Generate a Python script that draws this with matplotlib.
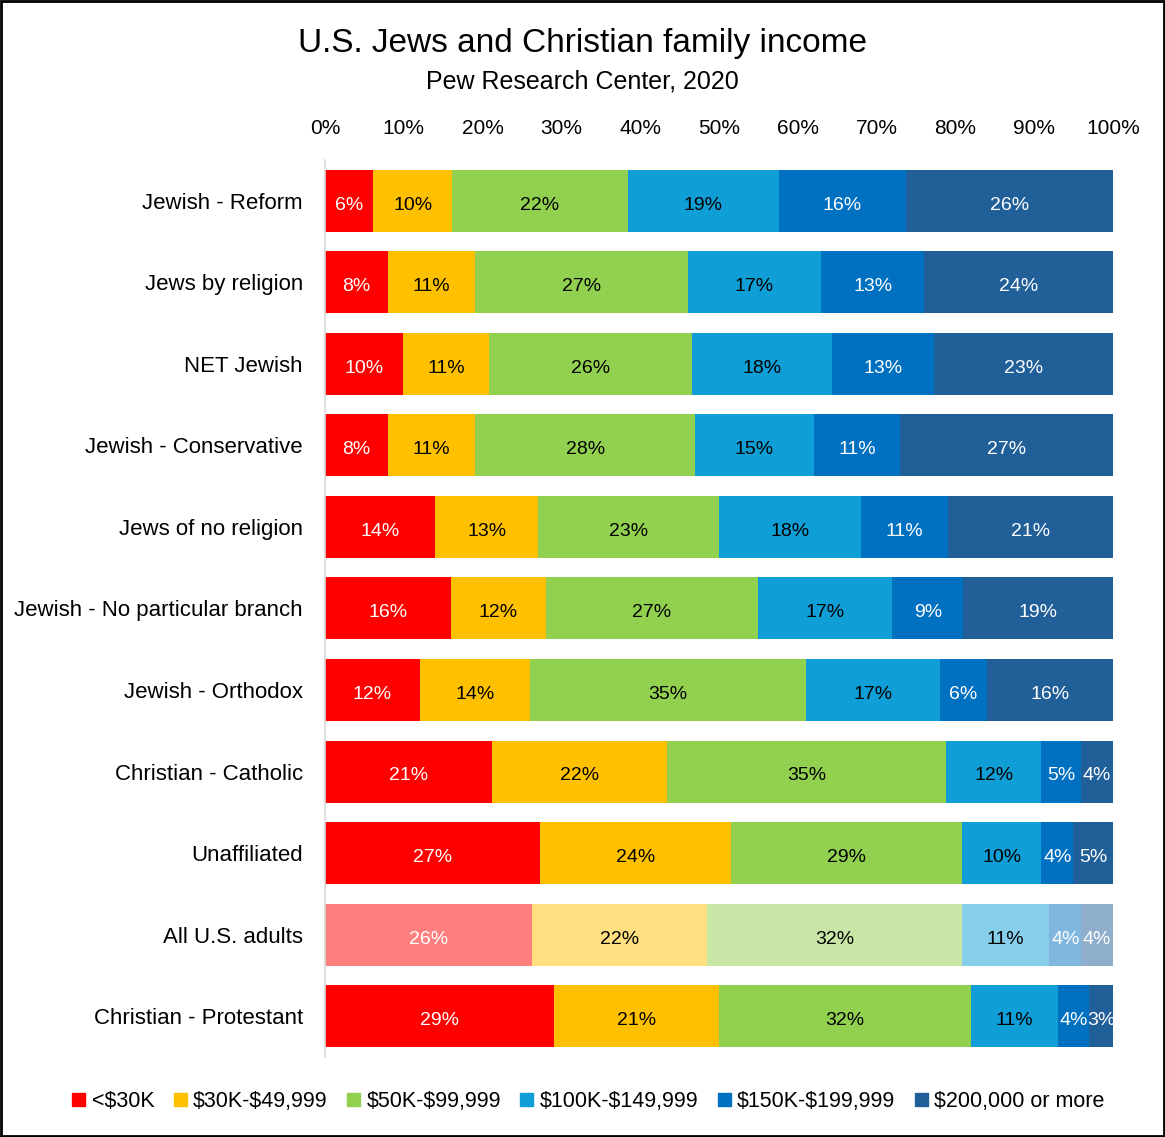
import numpy as np
import matplotlib.pyplot as plt
from matplotlib.patches import Patch, Rectangle

# categories, top to bottom
groups = ["Jewish - Reform", "Jews by religion", "NET Jewish", "Jewish - Conservative",
          "Jews of no religion", "Jewish - No particular branch", "Jewish - Orthodox",
          "Christian - Catholic", "Unaffiliated", "All U.S. adults", "Christian - Protestant"]

lt30k =   [6, 8, 10, 8, 14, 16, 12, 21, 27, 26, 29]
k30_50 =  [10, 11, 11, 11, 13, 12, 14, 22, 24, 22, 21]
k50_100 = [22, 27, 26, 28, 23, 27, 35, 35, 29, 32, 32]
k100_150 = [19, 17, 18, 15, 18, 17, 17, 12, 10, 11, 11]
k150_200 = [16, 13, 13, 11, 11, 9, 6, 5, 4, 4, 4]
k200plus = [26, 24, 23, 27, 21, 19, 16, 4, 5, 4, 3]

series_names = ["<$30K", "$30K-$49,999", "$50K-$99,999", "$100K-$149,999",
                "$150K-$199,999", "$200,000 or more"]
colors = ["#FF0000", "#FFC000", "#92D050", "#0F9ED5", "#0070C0", "#215F99"]
text_cols = ["white", "black", "black", "black", "white", "white"]

plt.rcParams['font.family'] = ['Liberation Sans Narrow', 'Liberation Sans', 'DejaVu Sans']
plt.rcParams['text.parse_math'] = False

data = np.array([lt30k, k30_50, k50_100, k100_150, k150_200, k200plus], dtype=float)
share = data / data.sum(axis=0) * 100  # 100% stacked like Excel

fig = plt.figure(figsize=(11.65, 11.37), dpi=100)
ax = fig.add_axes([0.279, 0.0704, 0.6764, 0.7889])

y = np.arange(len(groups))
left = np.zeros(len(groups))
for i in range(len(series_names)):
    for j in range(len(groups)):
        alpha = 0.5 if groups[j] == "All U.S. adults" else 1.0
        ax.barh(y[j], share[i, j], left=left[j], height=0.76, color=colors[i],
                alpha=alpha, linewidth=0)
        ax.text(left[j] + share[i, j] / 2, y[j] + 0.03, f"{int(data[i, j])}%",
                ha="center", va="center_baseline", fontsize=14, color=text_cols[i])
    left += share[i]

ax.set_xlim(0, 100)
ax.set_ylim(len(groups) - 0.5, -0.5)
ax.set_yticks(y)
ax.set_yticklabels(groups, fontsize=16)
ax.set_xticks(np.arange(0, 101, 10))
ax.set_xticklabels([f"{v}%" for v in range(0, 101, 10)], fontsize=15)
ax.xaxis.tick_top()
ax.tick_params(axis="both", length=0)
ax.tick_params(axis="x", pad=16)
ax.tick_params(axis="y", pad=16)
for s in ["top", "right", "bottom"]:
    ax.spines[s].set_visible(False)
ax.spines["left"].set_color("#D9D9D9")
ax.spines["left"].set_linewidth(1.2)

fig.text(0.5, 0.962, "U.S. Jews and Christian family income", ha="center", va="center",
         fontsize=24)
fig.text(0.5, 0.928, "Pew Research Center, 2020", ha="center", va="center", fontsize=18)

handles = [Patch(color=c) for c in colors]
fig.legend(handles, series_names, loc="center", bbox_to_anchor=(0.505, 0.031), ncol=6,
           frameon=False, fontsize=15.5, handlelength=0.6, handleheight=0.6,
           handletextpad=0.3, columnspacing=0.9)

fig.patches.append(Rectangle((0.001, 0.001), 0.998, 0.998, transform=fig.transFigure,
                             fill=False, edgecolor="black", linewidth=2))

fig.savefig("out.png", dpi=100)
